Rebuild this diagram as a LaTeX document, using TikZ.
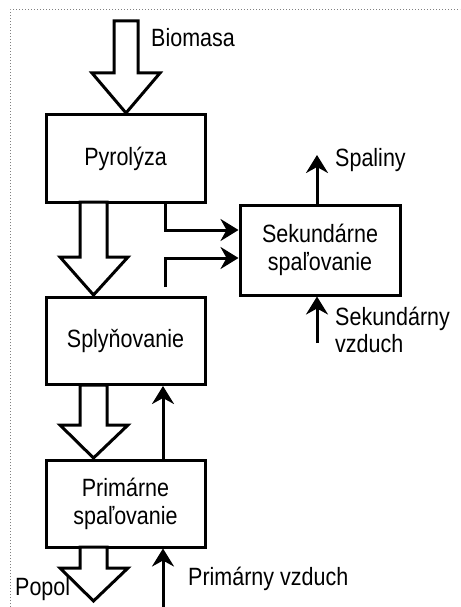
\documentclass[tikz,border=0pt]{standalone}
\usepackage{fontspec}
\setmainfont{Liberation Sans}[FakeStretch=0.86]
\usetikzlibrary{arrows.meta}
\begin{document}
\begin{tikzpicture}[x=1pt,y=-1pt,
  box/.style={draw, line width=3pt, minimum width=159pt, minimum height=87pt, inner sep=0pt, align=center, font=\fontsize{25}{28}\selectfont},
  lbl/.style={font=\fontsize{25}{27}\selectfont, inner sep=0pt, align=left},
  conn/.style={line width=3pt, -{Stealth[length=18pt,width=22pt,inset=6pt]}},
  hollow/.style={draw, fill=white, line width=3pt, line join=miter}]
\useasboundingbox (0,0) rectangle (460,607);
\draw[gray, dotted, line width=1pt] (10,607) -- (10,10) -- (460,10);

% boxes
\node[box] (pyr) at (125.5,158.5) {Pyrolýza};
\node[box] (sply) at (125.5,341) {Splyňovanie};
\node[box] (prim) at (125.5,503.5) {Primárne\\spaľovanie};
\node[box, minimum width=160pt, minimum height=90pt] (sek) at (320,250) {Sekundárne\\spaľovanie};

% hollow block arrows
\draw[hollow] (114,21) -- (138,21) -- (138,73) -- (160,73) -- (126,113) -- (92,73) -- (114,73) -- cycle;
\draw[hollow] (80,202) -- (107,202) -- (107,257) -- (128,257) -- (93.5,295) -- (60,257) -- (80,257) -- cycle;
\draw[hollow] (80,385) -- (107,385) -- (107,425) -- (128,425) -- (93.5,458) -- (60,425) -- (80,425) -- cycle;
\draw[hollow] (80,547) -- (107,547) -- (107,568) -- (128,568) -- (93.5,601) -- (60,568) -- (80,568) -- cycle;

% free ends
\coordinate (g2) at (165,287);
\coordinate (spal) at (317,155);
\coordinate (sv) at (317,343);
\coordinate (pv) at (163,607);

% connectors
\draw[conn] ([xshift=39.5pt]pyr.south) |- ([yshift=20pt]sek.west);
\draw[conn] (g2) |- ([yshift=-8pt]sek.west);
\draw[conn] (sek.north -| spal) -- (spal);
\draw[conn] (sv) -- (sv |- sek.south);
\draw[conn] ([xshift=37.5pt]prim.north) -- ([xshift=37.5pt]sply.south);
\draw[conn] (pv) -- (pv |- prim.south);

% labels
\node[lbl, anchor=base west] (lbio) at (151,47) {Biomasa};
\node[lbl, anchor=base west] (lspal) at (335,166) {Spaliny};
\node[lbl, anchor=west] (lsv) at (335,330) {Sekundárny\\vzduch};
\node[lbl, anchor=base west] (lpop) at (15,595) {Popol};
\node[lbl, anchor=base west] (lpv) at (188,585) {Primárny vzduch};
\end{tikzpicture}
\end{document}
